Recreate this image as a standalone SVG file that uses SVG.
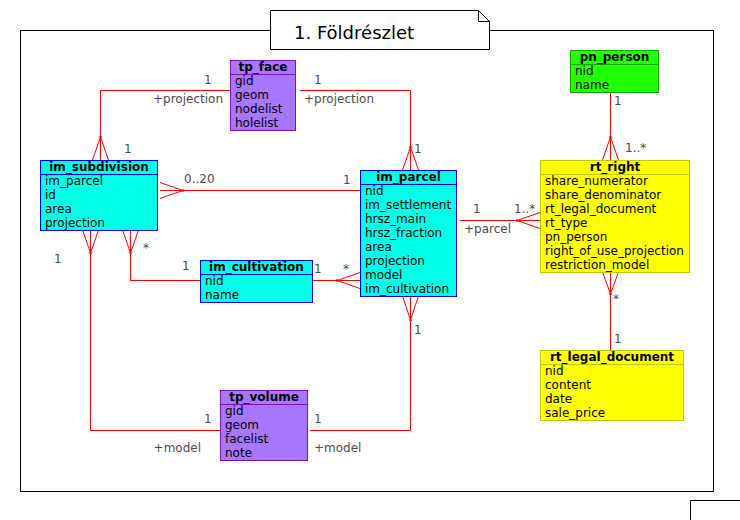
<svg xmlns="http://www.w3.org/2000/svg" width="740" height="520" viewBox="0 0 740 520">
<style>
text{font-family:"DejaVu Sans","Liberation Sans",sans-serif;font-size:12px;fill:#000}
.hd{font-weight:bold;text-anchor:middle}
.lbl{fill:#4a4a4a}
.title{font-size:18px}
.frame{fill:none;stroke:#000;stroke-width:1}
.conn path{fill:none;stroke:#ff0000;stroke-width:1}
.conn circle{fill:#ff0000}
.cyan rect,.cyan line{stroke:#0000ff}
.cyan rect{fill:#00ffe6}
.purple rect,.purple line{stroke:#7f0fbf}
.purple rect{fill:#a877ff}
.green rect,.green line{stroke:#11aa00}
.green rect{fill:#22ff00}
.yellow rect,.yellow line{stroke:#bbcc00}
.yellow rect{fill:#ffff00}
rect,line{stroke-width:1}
</style>
<rect width="740" height="520" fill="#fff"/>
<g id="frame">
<rect class="frame" x="20.5" y="30.5" width="693" height="461"/>
<path class="frame" d="M690.5,520 V500.5 H740"/>
<path d="M270.5,10.5 H478.5 L489.5,21.5 V49.5 H270.5 Z" fill="#fff" stroke="#000" stroke-width="1"/>
<path d="M478.5,10.5 V21.5 H489.5" fill="none" stroke="#000" stroke-width="1"/>
<text class="title" x="294" y="39">1. Földrészlet</text>
</g>
<g class="conn" id="connectors">
<path d="M230,90.5 H100.5 V160 M92.5,160 L100.5,137 L108.5,160"/>
<circle cx="100.5" cy="137" r="1.3"/>
<path d="M300,90.5 H410.5 V170 M402.5,170 L410.5,147 L418.5,170"/>
<circle cx="410.5" cy="147" r="1.3"/>
<path d="M160,190.5 H360 M160,182.5 L183,190.5 L160,198.5"/>
<circle cx="183" cy="190.5" r="1.3"/>
<path d="M610.5,92 V160 M602.5,160 L610.5,137 L618.5,160"/>
<circle cx="610.5" cy="137" r="1.3"/>
<path d="M460,220.5 H540 M540,212.5 L517,220.5 L540,228.5"/>
<circle cx="517" cy="220.5" r="1.3"/>
<path d="M610.5,272 V350 M602.5,272 L610.5,294 L618.5,272"/>
<circle cx="610.5" cy="294" r="1.3"/>
<path d="M130.5,230 V280.5 H200 M122.5,230 L130.5,253 L138.5,230"/>
<circle cx="130.5" cy="253" r="1.3"/>
<path d="M312,280.5 H360 M360,272.5 L337,280.5 L360,288.5"/>
<circle cx="337" cy="280.5" r="1.3"/>
<path d="M90.5,230 V430.5 H220 M82.5,230 L90.5,253 L98.5,230"/>
<circle cx="90.5" cy="253" r="1.3"/>
<path d="M310,430.5 H410.5 V296 M402.5,296 L410.5,320 L418.5,296"/>
<circle cx="410.5" cy="320" r="1.3"/>
</g>
<g id="labels">
<text class="lbl" x="204" y="84">1</text>
<text class="lbl" x="223" y="103" text-anchor="end">+projection</text>
<text class="lbl" x="124" y="153">1</text>
<text class="lbl" x="314" y="84">1</text>
<text class="lbl" x="304" y="103">+projection</text>
<text class="lbl" x="414" y="153">1</text>
<text class="lbl" x="184" y="183">0..20</text>
<text class="lbl" x="343" y="184">1</text>
<text class="lbl" x="614" y="105">1</text>
<text class="lbl" x="625" y="152">1..*</text>
<text class="lbl" x="473" y="213">1</text>
<text class="lbl" x="514" y="213">1..*</text>
<text class="lbl" x="464" y="233">+parcel</text>
<text class="lbl" x="613" y="303">*</text>
<text class="lbl" x="614" y="343">1</text>
<text class="lbl" x="54" y="263">1</text>
<text class="lbl" x="143" y="252">*</text>
<text class="lbl" x="182" y="270">1</text>
<text class="lbl" x="314" y="273">1</text>
<text class="lbl" x="343" y="273">*</text>
<text class="lbl" x="204" y="423">1</text>
<text class="lbl" x="201" y="452" text-anchor="end">+model</text>
<text class="lbl" x="314" y="423">1</text>
<text class="lbl" x="314" y="452">+model</text>
<text class="lbl" x="414" y="334">1</text>
</g>
<g id="tp_face" class="purple">
<rect x="230.5" y="60.5" width="65" height="70"/>
<line x1="230.5" y1="74.5" x2="295.5" y2="74.5"/>
<text class="hd" x="263" y="71">tp_face</text>
<text x="235" y="85">gid</text>
<text x="235" y="99">geom</text>
<text x="235" y="113">nodelist</text>
<text x="235" y="127">holelist</text>
</g>
<g id="pn_person" class="green">
<rect x="570.5" y="50.5" width="88" height="42"/>
<line x1="570.5" y1="64.5" x2="658.5" y2="64.5"/>
<text class="hd" x="614.5" y="61">pn_person</text>
<text x="575" y="75">nid</text>
<text x="575" y="89">name</text>
</g>
<g id="im_subdivision" class="cyan">
<rect x="40.5" y="160.5" width="117" height="70"/>
<line x1="40.5" y1="174.5" x2="157.5" y2="174.5"/>
<text class="hd" x="99" y="171">im_subdivision</text>
<text x="45" y="185">im_parcel</text>
<text x="45" y="199">id</text>
<text x="45" y="213">area</text>
<text x="45" y="227">projection</text>
</g>
<g id="im_parcel" class="cyan">
<rect x="360.5" y="170.5" width="96" height="126"/>
<line x1="360.5" y1="184.5" x2="456.5" y2="184.5"/>
<text class="hd" x="408.5" y="181">im_parcel</text>
<text x="365" y="195">nid</text>
<text x="365" y="209">im_settlement</text>
<text x="365" y="223">hrsz_main</text>
<text x="365" y="237">hrsz_fraction</text>
<text x="365" y="251">area</text>
<text x="365" y="265">projection</text>
<text x="365" y="279">model</text>
<text x="365" y="293">im_cultivation</text>
</g>
<g id="rt_right" class="yellow">
<rect x="540.5" y="160.5" width="149" height="112"/>
<line x1="540.5" y1="174.5" x2="689.5" y2="174.5"/>
<text class="hd" x="615" y="171">rt_right</text>
<text x="545" y="185">share_numerator</text>
<text x="545" y="199">share_denominator</text>
<text x="545" y="213">rt_legal_document</text>
<text x="545" y="227">rt_type</text>
<text x="545" y="241">pn_person</text>
<text x="545" y="255">right_of_use_projection</text>
<text x="545" y="269">restriction_model</text>
</g>
<g id="im_cultivation" class="cyan">
<rect x="200.5" y="260.5" width="112" height="42"/>
<line x1="200.5" y1="274.5" x2="312.5" y2="274.5"/>
<text class="hd" x="256.5" y="271">im_cultivation</text>
<text x="205" y="285">nid</text>
<text x="205" y="299">name</text>
</g>
<g id="rt_legal_document" class="yellow">
<rect x="540.5" y="350.5" width="143" height="70"/>
<line x1="540.5" y1="364.5" x2="683.5" y2="364.5"/>
<text class="hd" x="612" y="361">rt_legal_document</text>
<text x="545" y="375">nid</text>
<text x="545" y="389">content</text>
<text x="545" y="403">date</text>
<text x="545" y="417">sale_price</text>
</g>
<g id="tp_volume" class="purple">
<rect x="220.5" y="390.5" width="87" height="70"/>
<line x1="220.5" y1="404.5" x2="307.5" y2="404.5"/>
<text class="hd" x="264" y="401">tp_volume</text>
<text x="225" y="415">gid</text>
<text x="225" y="429">geom</text>
<text x="225" y="443">facelist</text>
<text x="225" y="457">note</text>
</g>
</svg>
